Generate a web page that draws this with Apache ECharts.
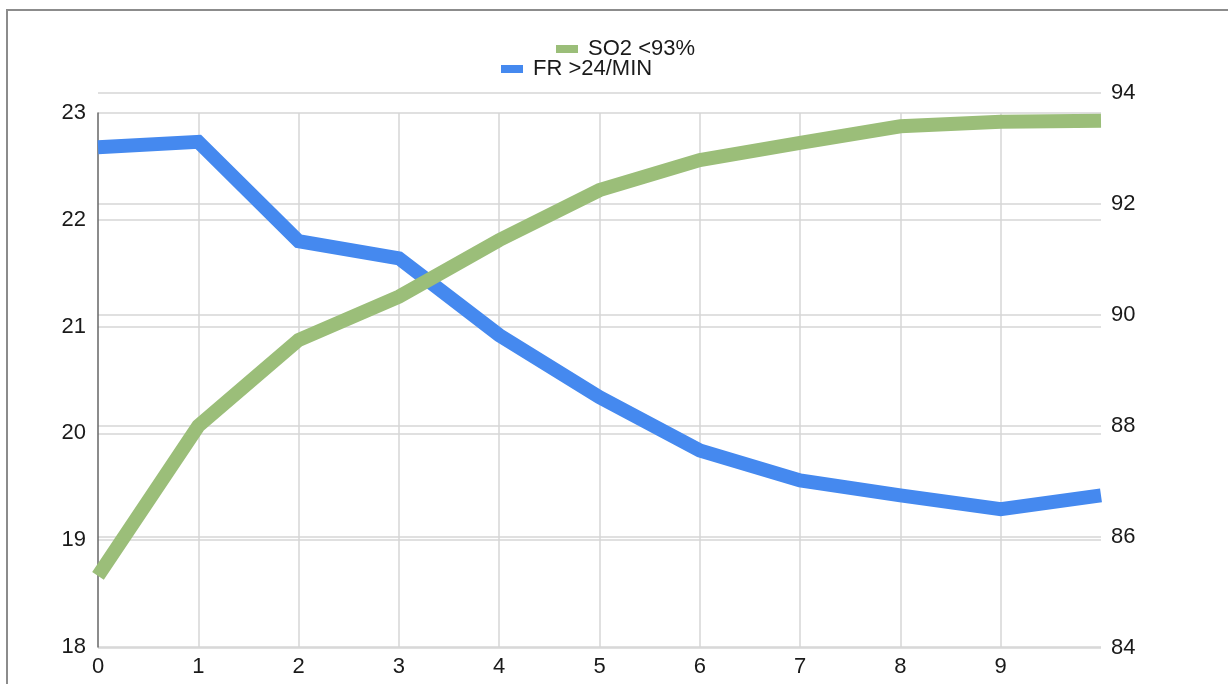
<!DOCTYPE html>
<html>
<head>
<meta charset="utf-8">
<script src="https://cdn.jsdelivr.net/npm/echarts@6/dist/echarts.min.js"></script>
<style>
  html, body { margin: 0; padding: 0; background: #fff; }
  #chart { width: 1228px; height: 684px; }
</style>
</head>
<body>
<div id="chart"></div>
<script>
// ---- data ----
const xValues = [0, 1, 2, 3, 4, 5, 6, 7, 8, 9, 10];
const frName = 'FR >24/MIN';
const so2Name = 'SO2 <93%';
const frValues = [22.68, 22.73, 21.80, 21.64, 20.92, 20.34, 19.84, 19.56, 19.42, 19.29, 19.42];
const so2Values = [85.3, 88.0, 89.55, 90.33, 91.35, 92.25, 92.79, 93.10, 93.40, 93.48, 93.50];
const leftTicks = { min: 18, max: 23, interval: 1 };
const rightTicks = { min: 84, max: 94, interval: 2 };

const chart = echarts.init(document.getElementById('chart'), null, { renderer: 'canvas' });
const FONT = 'Liberation Sans, Arial, Helvetica, sans-serif';
const gridColor = '#d6d6d6';
const textColor = '#1a1a1a';

const option = {
  backgroundColor: '#fff',
  animation: false,
  graphic: [
    { type: 'polyline', shape: { points: [[7, 684], [7, 10], [1228, 10]] },
      style: { stroke: '#8c8c8c', lineWidth: 2, fill: null }, silent: true }
  ],
  legend: [
    { data: [so2Name], left: 551, top: 33, icon: 'rect', itemWidth: 22, itemHeight: 8,
      textStyle: { fontFamily: FONT, fontSize: 22, color: textColor, lineHeight: 22, padding: [0, 0, 0, 5] } },
    { data: [frName], left: 496, top: 53, icon: 'rect', itemWidth: 22, itemHeight: 8,
      textStyle: { fontFamily: FONT, fontSize: 22, color: textColor, lineHeight: 22, padding: [0, 0, 0, 5] } }
  ],
  grid: [
    { left: 98, top: 113, width: 1003, height: 534, containLabel: false },
    { left: 98, top: 93, width: 1003, height: 555, containLabel: false }
  ],
  xAxis: [
    { type: 'value', gridIndex: 0, min: 0, max: 10, interval: 1,
      axisLine: { show: false }, axisTick: { show: false },
      axisLabel: { fontFamily: FONT, fontSize: 22, color: textColor, margin: 9,
        formatter: v => (v === 10 ? '' : String(v)) },
      splitLine: { show: true, showMinLine: false, showMaxLine: false,
        lineStyle: { color: gridColor, width: 1.5 } } },
    { type: 'value', gridIndex: 1, min: 0, max: 10, interval: 1, show: false,
      splitLine: { show: false } }
  ],
  yAxis: [
    { type: 'value', gridIndex: 0, position: 'left', min: leftTicks.min, max: leftTicks.max, interval: leftTicks.interval,
      axisLine: { show: true, lineStyle: { color: '#666', width: 1.5 } }, axisTick: { show: false },
      axisLabel: { fontFamily: FONT, fontSize: 22, color: textColor, margin: 12 },
      splitLine: { show: true, lineStyle: { color: gridColor, width: 1.5 } } },
    { type: 'value', gridIndex: 1, position: 'right', min: rightTicks.min, max: rightTicks.max, interval: rightTicks.interval,
      axisLine: { show: false }, axisTick: { show: false },
      axisLabel: { fontFamily: FONT, fontSize: 22, color: textColor, margin: 10 },
      splitLine: { show: true, lineStyle: { color: gridColor, width: 1.5 } } }
  ],
  series: [
    { name: frName, type: 'line', xAxisIndex: 0, yAxisIndex: 0,
      data: xValues.map((x, i) => [x, frValues[i]]),
      showSymbol: false, symbol: 'none', color: '#4589ef',
      lineStyle: { width: 14, color: '#4589ef', cap: 'butt', join: 'miter' }, z: 3 },
    { name: so2Name, type: 'line', xAxisIndex: 1, yAxisIndex: 1,
      data: xValues.map((x, i) => [x, so2Values[i]]),
      showSymbol: false, symbol: 'none', color: '#9bbe79',
      lineStyle: { width: 14, color: '#9bbe79', cap: 'butt', join: 'miter' }, z: 4 }
  ]
};
chart.setOption(option);
</script>
</body>
</html>
